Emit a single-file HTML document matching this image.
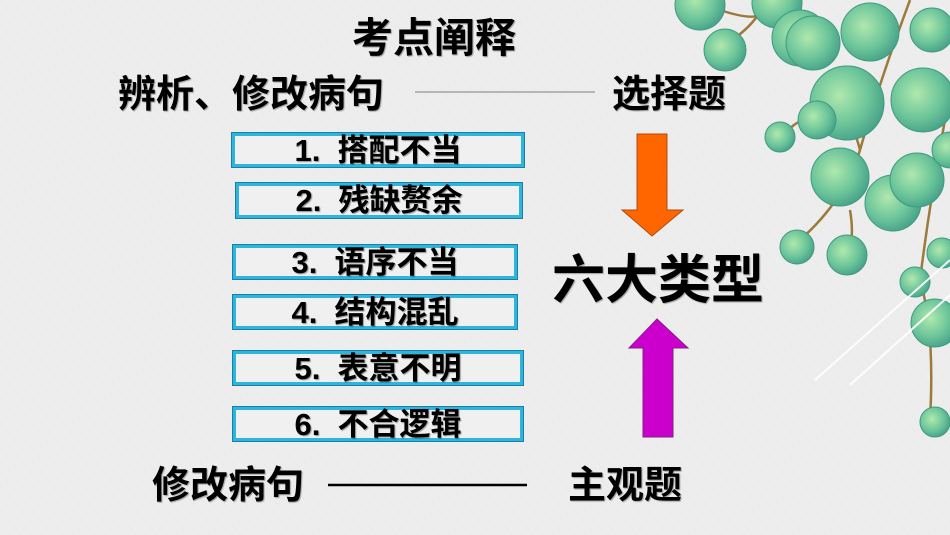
<!DOCTYPE html>
<html><head><meta charset="utf-8">
<style>
html,body{margin:0;padding:0}
body{width:950px;height:535px;overflow:hidden;position:relative;background:#ededed;font-family:"Liberation Sans","Noto Sans CJK SC",sans-serif;font-weight:bold;color:#000}
.t{position:absolute;white-space:nowrap;line-height:1;text-shadow:1px 1px 1px rgba(0,0,0,.35)}
.box{position:absolute;box-sizing:border-box;border:3px solid #2bb5df;outline:1px solid #1a7fa0;background:rgba(245,245,245,.4);display:flex;align-items:center;justify-content:center;font-size:31px;line-height:1;text-shadow:1px 1px 1px rgba(0,0,0,.4);white-space:pre}
svg{position:absolute;left:0;top:0}
</style></head><body>
<svg width="950" height="535">
<defs>
<radialGradient id="g" cx="40%" cy="40%" r="65%">
<stop offset="0" stop-color="#b0e8ae"/><stop offset="0.6" stop-color="#6cc59a"/><stop offset="1" stop-color="#45a088"/>
</radialGradient>
<pattern id="p" width="8" height="8" patternUnits="userSpaceOnUse" patternTransform="rotate(-40)"><line x1="0" y1="0" x2="0" y2="8" stroke="#e4e4e4" stroke-width="1"/></pattern>
</defs>
<rect width="950" height="535" fill="url(#p)" opacity="0.6"/>
<g stroke="#9c7a3c" stroke-width="2.5" fill="none">
<path d="M720 10 Q750 20 760 15 M758 15 Q748 30 725 45"/>
<path d="M910 0 Q880 80 860 150 Q845 200 800 240"/>
<path d="M860 150 Q850 110 820 80 M845 120 Q800 110 785 135"/>
<path d="M850 210 Q855 240 847 255"/>
<path d="M945 120 Q930 200 920 280 Q935 330 930 420"/>
<path d="M790 0 Q800 20 780 40"/>
</g>
<g fill="url(#g)" stroke="#3e9a80" stroke-width="1">
<circle cx="700" cy="5" r="25"/>
<circle cx="777" cy="3" r="25"/>
<circle cx="725" cy="50" r="21"/>
<circle cx="800" cy="38" r="28"/>
<circle cx="813" cy="43" r="27"/>
<circle cx="870" cy="32" r="29"/>
<circle cx="932" cy="30" r="22"/>
<circle cx="847" cy="103" r="37"/>
<circle cx="923" cy="100" r="32"/>
<circle cx="817" cy="120" r="19"/>
<circle cx="780" cy="137" r="15"/>
<circle cx="893" cy="203" r="28"/>
<circle cx="840" cy="177" r="29"/>
<circle cx="917" cy="180" r="27"/>
<circle cx="797" cy="247" r="17"/>
<circle cx="847" cy="255" r="20"/>
<circle cx="942" cy="253" r="15"/>
<circle cx="915" cy="282" r="15"/>
<circle cx="935" cy="323" r="24"/>
<circle cx="935" cy="422" r="15"/>
<circle cx="950" cy="150" r="18"/>
</g>
<g stroke="#fff" stroke-width="2" opacity="0.9">
<line x1="815" y1="380" x2="950" y2="260"/>
<line x1="850" y1="385" x2="950" y2="295"/>
</g>
<line x1="415" y1="92" x2="595" y2="92" stroke="#b5b5b5" stroke-width="2"/>
<line x1="328" y1="485" x2="527" y2="485" stroke="#000" stroke-width="2.5"/>
<polygon points="637,134 667,134 667,210 683,210 652,236 622,210 637,210" fill="#ff6600" stroke="#b04a10" stroke-width="1"/>
<polygon points="657,319 688,348 673,348 673,437 643,437 643,348 629,348" fill="#cc00cc" stroke="#802080" stroke-width="1"/>
</svg>
<div class="t" style="left:352px;top:18px;font-size:41px">考点阐释</div>
<div class="t" style="left:118px;top:76px;font-size:38px">辨析、修改病句</div>
<div class="t" style="left:612px;top:76px;font-size:38px">选择题</div>
<div class="box" style="left:232px;top:133px;width:292px;height:34px">1.  搭配不当</div>
<div class="box" style="left:236px;top:183px;width:286px;height:35px">2.  残缺赘余</div>
<div class="box" style="left:233px;top:245px;width:284px;height:34px">3.  语序不当</div>
<div class="box" style="left:233px;top:295px;width:284px;height:34px">4.  结构混乱</div>
<div class="box" style="left:233px;top:351px;width:290px;height:34px">5.  表意不明</div>
<div class="box" style="left:233px;top:407px;width:290px;height:34px">6.  不合逻辑</div>
<div class="t" style="left:552px;top:254px;font-size:53px">六大类型</div>
<div class="t" style="left:152px;top:467px;font-size:38px">修改病句</div>
<div class="t" style="left:568px;top:467px;font-size:38px">主观题</div>
</body></html>
